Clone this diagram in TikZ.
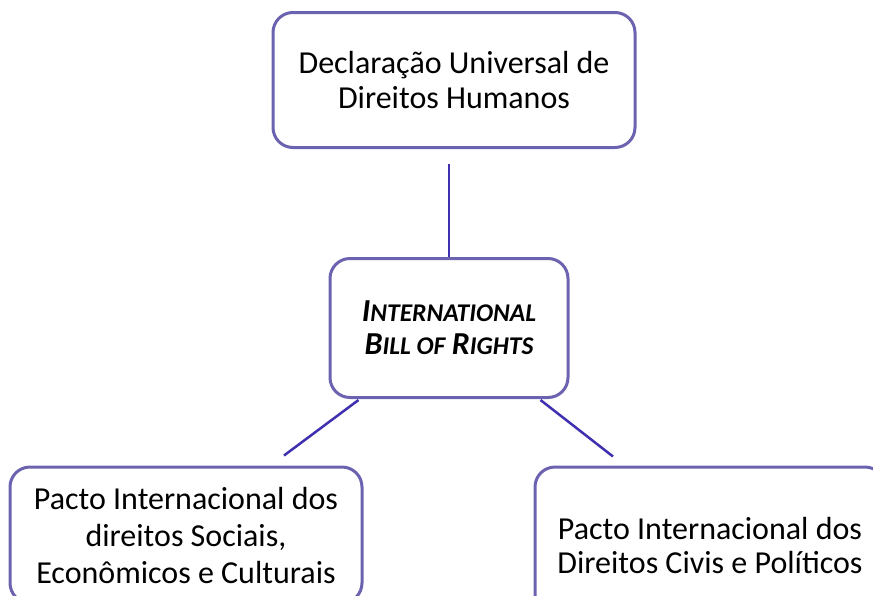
\documentclass[tikz,border=0pt]{standalone}
\usepackage{fontspec}
\setmainfont{Carlito}
\usepackage{xcolor}
\usepackage{tikz}
\usetikzlibrary{calc}
\definecolor{boxpurple}{HTML}{6C63B0}
\definecolor{linkblue}{HTML}{3F30B0}

\newcommand{\fakesc}[2]{{\fontsize{32}{33}\selectfont #1}{\fontsize{25.5}{33}\selectfont #2}}

\tikzset{
    docbox/.style={draw=boxpurple, fill=white, line width=3pt, rounded corners=20pt,
                   align=center, inner sep=0pt},
    link/.style={draw=linkblue, line width=2.5pt}
}

\begin{document}
\begin{tikzpicture}[x=1pt, y=-1pt]
    \useasboundingbox (0,0) rectangle (873,595);
    \node[docbox, minimum width=362pt, minimum height=135pt,
          font=\fontsize{32}{35}\selectfont] (udhr) at (454,80) {%
      Declaração Universal de\\
      Direitos Humanos};
    \node[docbox, minimum width=238pt, minimum height=139pt,
          font=\fontsize{28}{33}\selectfont\bfseries\itshape] (bill) at (449,328) {%
      \fakesc{I}{NTERNATIONAL}\\
      \fakesc{B}{ILL OF} \fakesc{R}{IGHTS}};
    \node[docbox, minimum width=352pt, minimum height=136pt,
          font=\fontsize{32}{37}\selectfont] (pidesc) at (186,535) {%
      Pacto Internacional dos\\
      direitos Sociais,\\
      Econômicos e Culturais};
    \node[docbox, minimum width=350pt, minimum height=156pt,
          font=\fontsize{32}{34}\selectfont] (pidcp) at (710,545) {%
      Pacto Internacional dos\\
      Direitos Civis e Políticos};
    \draw[link, shorten >=15pt] (bill.north) -- (bill.north |- udhr.south);
    \draw[link] ($(bill.south west)+(30,1)$) -- ($(pidesc.north)+(98,-10)$);
    \draw[link] ($(bill.south east)+(-29,1)$) -- ($(pidcp.north)+(-97,-9)$);
\end{tikzpicture}
\end{document}
